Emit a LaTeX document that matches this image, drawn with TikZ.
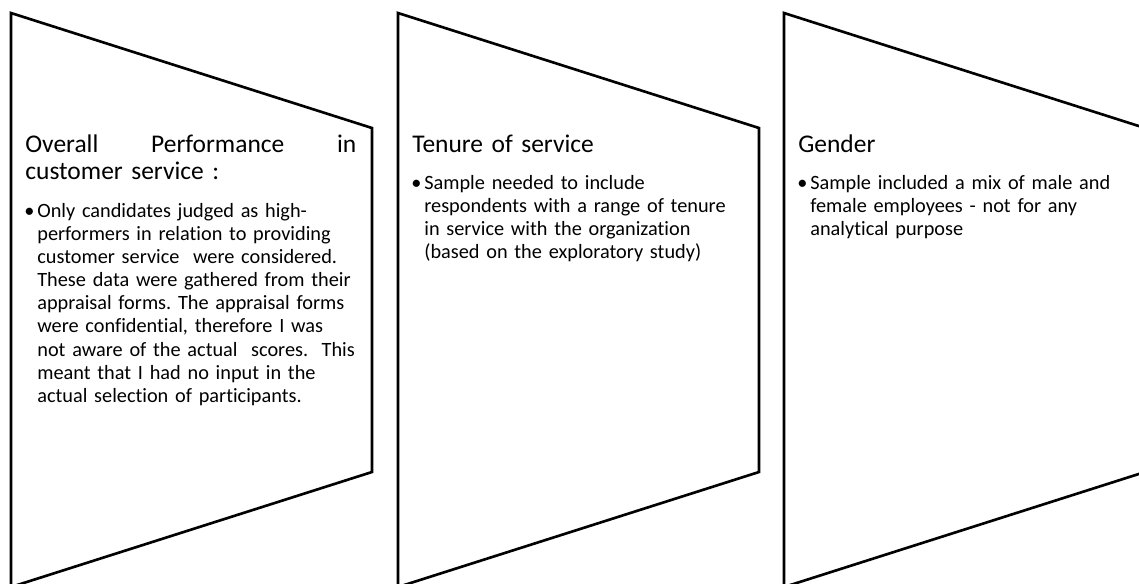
\documentclass[tikz,border=0pt]{standalone}
\usepackage{fontspec}
\setmainfont{Carlito}[Ligatures=NoCommon]
\usepackage{tikz}
\frenchspacing

\begin{document}
\begin{tikzpicture}[x=0.02cm,y=-0.02cm,
        panel/.style={line width=1.5pt,line join=miter},
        headtext/.style={anchor=base west,inner sep=0pt,text width=6.62cm,align=left,font=\fontsize{14.5}{15.9}\selectfont},
        itemtext/.style={anchor=base west,inner sep=0pt,text width=7cm,align=left,font=\fontsize{11.55}{13.2}\selectfont}]
    \useasboundingbox (0,0) rectangle (1139,583);
    \clip (0,0) rectangle (1139,583);
    % the three panels
    \draw [panel] (11,13) -- (372,128) -- (372,472) -- (11,587) -- cycle;
    \draw [panel] (398,13) -- (759,128) -- (759,472) -- (398,587) -- cycle;
    \draw [panel] (784,13) -- (1145,128) -- (1145,472) -- (784,587) -- cycle;
    % performance
    \node [headtext] (perfhead) at (25,152) {Overall\hfill Performance\hfill in\\customer service :};
    \node [itemtext] (perfitem) at (37,217) {\llap{\makebox[7.4pt][l]{\textbullet}}Only candidates judged as high-\\performers in relation to providing\\customer service~ were considered.\\These data were gathered from their\\appraisal forms. The appraisal forms\\were confidential, therefore I was\\not aware of the actual~ scores.~ This\\meant that I had no input in the\\actual selection of participants.};
    % tenure
    \node [headtext] (tenurehead) at (412,152) {Tenure of service};
    \node [itemtext] (tenureitem) at (424,189) {\llap{\makebox[7.4pt][l]{\textbullet}}Sample needed to include\\respondents with a range of tenure\\in service with the organization\\(based on the exploratory study)};
    % gender
    \node [headtext] (genderhead) at (798,152) {Gender};
    \node [itemtext] (genderitem) at (810,189) {\llap{\makebox[7.4pt][l]{\textbullet}}Sample included a mix of male and\\female employees - not for any\\analytical purpose};
\end{tikzpicture}
\end{document}
